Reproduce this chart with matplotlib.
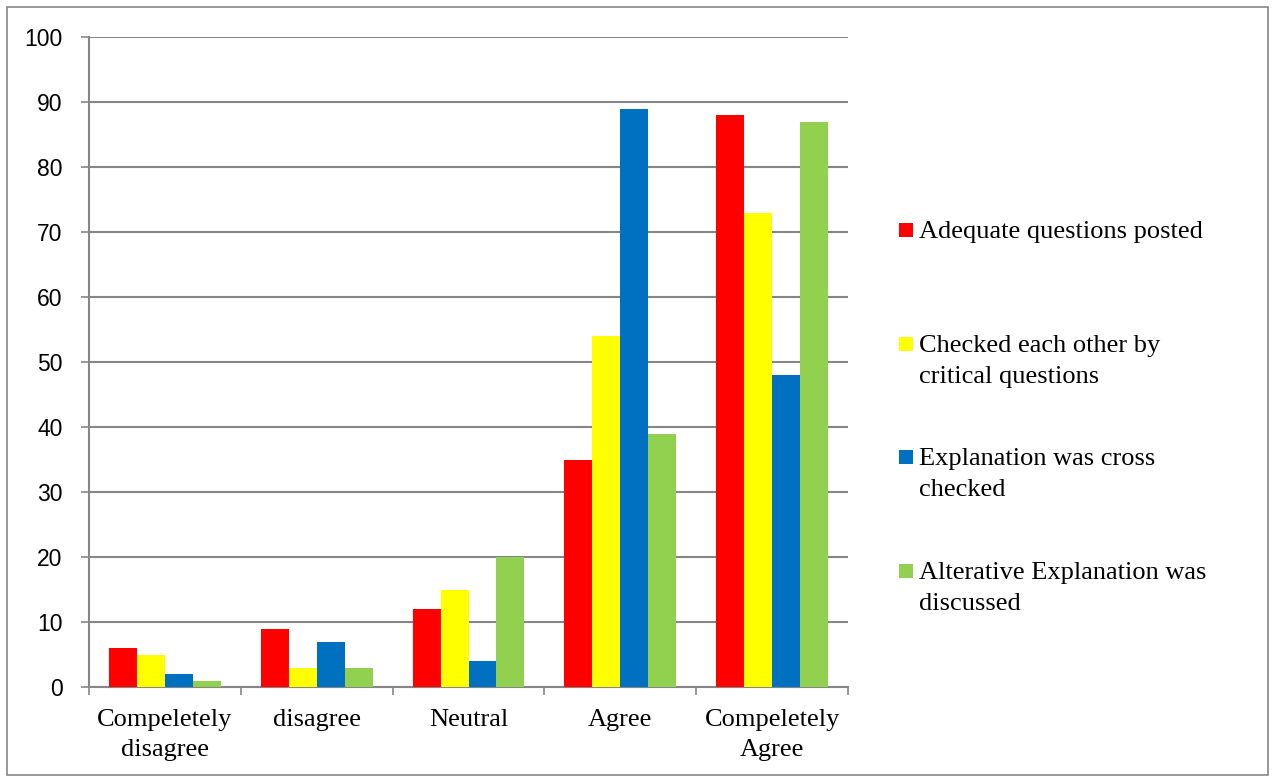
import matplotlib
matplotlib.use("Agg")
import matplotlib.pyplot as plt
import numpy as np
from matplotlib.patches import Rectangle

categories = ["Compeletely\ndisagree", "disagree", "Neutral", "Agree", "Compeletely\nAgree"]
series_names = [
    "Adequate questions posted",
    "Checked each other by\ncritical questions",
    "Explanation was cross\nchecked",
    "Alterative Explanation was\ndiscussed",
]
adequate_questions = [6, 9, 12, 35, 88]
checked_each_other = [5, 3, 15, 54, 73]
explanation_cross_checked = [2, 7, 4, 89, 48]
alternative_explanation = [1, 3, 20, 39, 87]
y_ticks = [0, 10, 20, 30, 40, 50, 60, 70, 80, 90, 100]

series_values = [adequate_questions, checked_each_other,
                 explanation_cross_checked, alternative_explanation]
colors = ["#FF0000", "#FFFF00", "#0070C0", "#92D050"]
grid_gray = "#868686"

W, H = 1272, 776
fig = plt.figure(figsize=(W / 100, H / 100), dpi=100)
fig.patch.set_facecolor("white")

# outer chart border
fig.patches.append(Rectangle((7 / W, 1.5 / H), (1261 / W), (767.5 / H),
                             transform=fig.transFigure, fill=False,
                             edgecolor=grid_gray, linewidth=1.2))

ax = fig.add_axes([89 / W, (H - 687) / H, (848 - 89) / W, (687 - 37) / H])

x = np.arange(len(categories))
bar_w = 0.184
for i, (vals, col) in enumerate(zip(series_values, colors)):
    offset = (i - 1.5) * bar_w
    ax.bar(x + offset, vals, width=bar_w, color=col, edgecolor="none", zorder=3)

ax.set_xlim(-0.5, len(categories) - 0.5)
ax.set_ylim(0, 100)
ax.set_yticks(y_ticks)
ax.yaxis.grid(True, color=grid_gray, linewidth=1.5, zorder=0)
ax.set_axisbelow(True)

for side in ["top", "right"]:
    ax.spines[side].set_visible(False)
for side in ["left", "bottom"]:
    ax.spines[side].set_color(grid_gray)
    ax.spines[side].set_linewidth(1.5)

ax.tick_params(axis="y", direction="out", length=5.5, width=1.2,
               color=grid_gray, pad=13.5)
for lbl in ax.get_yticklabels():
    lbl.set_fontfamily("Liberation Sans")
    lbl.set_fontsize(16.5)
    lbl.set_color("black")

# category boundary ticks with labels centred in each category
ax.set_xticks(np.arange(-0.5, len(categories), 1.0))
ax.set_xticklabels([])
ax.tick_params(axis="x", direction="out", length=6, width=1.2, color=grid_gray)
ax.set_xticks(x, minor=True)
ax.set_xticklabels(categories, minor=True, fontfamily="Liberation Serif",
                   fontsize=19, linespacing=1.45)
ax.tick_params(axis="x", which="minor", length=0, pad=16)

# legend drawn as squares with text on the right
legend_y = [230, 344, 457, 571]
for name, col, yc in zip(series_names, colors, legend_y):
    fig.patches.append(Rectangle((899 / W, (H - yc - 7) / H), 14 / W, 14 / H,
                                 transform=fig.transFigure, facecolor=col,
                                 edgecolor="none"))
    fig.text(919 / W, (H - yc + 9) / H, name, ha="left", va="top",
             fontfamily="Liberation Serif", fontsize=19, linespacing=1.5)

fig.savefig("out.png", dpi=100, facecolor="white")
